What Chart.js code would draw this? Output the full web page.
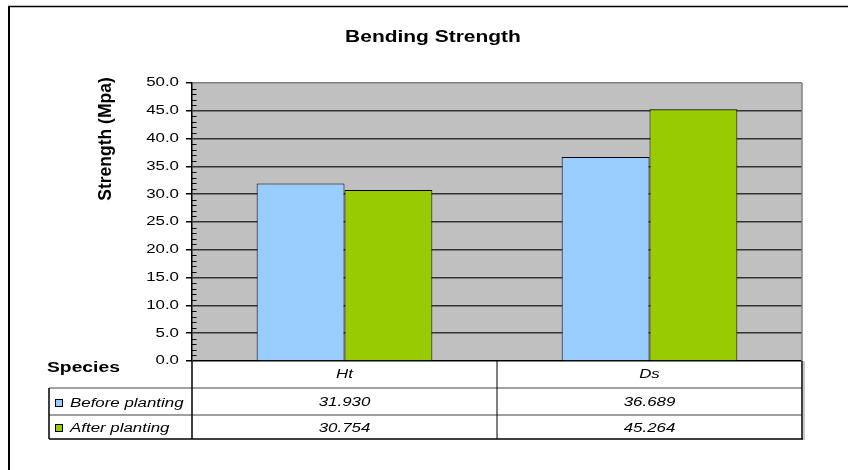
<!DOCTYPE html>
<html>
<head>
<meta charset="utf-8">
<script src="https://cdn.jsdelivr.net/npm/chart.js@4/dist/chart.umd.min.js"></script>
<style>
  html, body { margin: 0; padding: 0; background: #fff; }
  #wrap { width: 848px; height: 470px; position: relative; }
</style>
</head>
<body>
<div id="wrap"><canvas id="c" width="848" height="470"></canvas></div>
<script>
// ---- data ----
const chartTitle = 'Bending Strength';
const yAxisTitle = 'Strength (Mpa)';
const tableHeader = 'Species';
const species = ['Ht', 'Ds'];
const seriesNames = ['Before planting', 'After planting'];
const beforePlanting = [31.930, 36.689];
const afterPlanting = [30.754, 45.264];
const yMin = 0;
const yMax = 50;
const yStep = 5;
const yMinorStep = 1;

// ---- styling ----
const FONT = '"Liberation Sans", Arial, Helvetica, sans-serif';
const WIDE = 1.35;               // horizontal scale for drawn text (wide sheet-style lettering)
const seriesColors = ['#99CCFF', '#99CC00'];
const plotFill = '#C0C0C0';

function wideText(ctx, str, x, y, align, font, stretch) {
  ctx.save();
  ctx.font = font;
  ctx.fillStyle = '#000';
  ctx.textAlign = align;
  ctx.textBaseline = 'alphabetic';
  ctx.translate(x, y);
  ctx.scale(stretch || WIDE, 1);
  ctx.fillText(str, 0, 0);
  ctx.restore();
}

function line(ctx, x1, y1, x2, y2, color, w) {
  ctx.save();
  ctx.strokeStyle = color;
  ctx.lineWidth = w;
  ctx.beginPath();
  ctx.moveTo(x1, y1);
  ctx.lineTo(x2, y2);
  ctx.stroke();
  ctx.restore();
}

const sheetDecor = {
  id: 'sheetDecor',
  beforeDraw(chart) {
    const { ctx, chartArea: a } = chart;
    ctx.save();
    ctx.fillStyle = '#fff';
    ctx.fillRect(0, 0, chart.width, chart.height);
    ctx.restore();
    // outer frame (left and top edges)
    line(ctx, 9, 6, 9, chart.height, '#000', 2);
    line(ctx, 8, 6.5, chart.width, 6.5, '#000', 1.5);
    // plot background
    ctx.save();
    ctx.fillStyle = plotFill;
    ctx.fillRect(a.left, a.top, a.right - a.left, a.bottom - a.top);
    ctx.restore();

    // widen the value-axis labels drawn by the library
    const ys = chart.scales.y;
    if (!ys._wideLabels) {
      const orig = ys.drawLabels;
      ys.drawLabels = function (area) {
        const c = this.ctx;
        const ax = this.right - this.options.grid.tickLength - this.options.ticks.padding;
        c.save();
        c.translate(ax, 0);
        c.scale(WIDE, 1);
        c.translate(-ax, 0);
        orig.call(this, area);
        c.restore();
      };
      ys._wideLabels = true;
    }
  },
  afterDraw(chart) {
    const { ctx, chartArea: a } = chart;
    const ys = chart.scales.y;
    const xs = chart.scales.x;

    // minor ticks on the value axis
    for (let v = yMin; v <= yMax; v += yMinorStep) {
      if (v % yStep === 0) continue;
      const py = Math.round(ys.getPixelForValue(v)) + 0.5;
      line(ctx, a.left, py, a.left + 4.5, py, '#000', 1);
    }

    // plot right edge
    line(ctx, a.right, a.top, a.right, a.bottom, '#808080', 1.5);

    // title
    wideText(ctx, chartTitle, 433, 42, 'center', 'bold 16.5px ' + FONT, 1.27);

    // value axis title
    ctx.save();
    ctx.translate(111, 139);
    ctx.rotate(-Math.PI / 2);
    ctx.font = 'bold 17.5px ' + FONT;
    ctx.fillStyle = '#000';
    ctx.textAlign = 'center';
    ctx.textBaseline = 'alphabetic';
    ctx.fillText(yAxisTitle, 0, 0);
    ctx.restore();

    // ---- data table under the plot ----
    const top = a.bottom;
    const rowH = [27, 27, 24];
    const r1 = top + rowH[0];
    const r2 = r1 + rowH[1];
    const bottom = r2 + rowH[2];
    const keyLeft = 49;
    const mid = (xs.getPixelForValue(0) + xs.getPixelForValue(1)) / 2;

    // light shadow on the right edge
    ctx.save();
    ctx.fillStyle = '#c8c8c8';
    ctx.fillRect(a.right + 1, top, 2, bottom - top + 1);
    ctx.restore();

    line(ctx, keyLeft, r1, a.right, r1, '#808080', 1.5);
    line(ctx, keyLeft, r2, a.right, r2, '#808080', 1.5);
    line(ctx, keyLeft, bottom, a.right + 1, bottom, '#000', 1.5);
    line(ctx, keyLeft, r1, keyLeft, bottom, '#000', 1.5);
    line(ctx, a.left, top, a.left, bottom, '#000', 1.5);
    line(ctx, mid, top, mid, bottom, '#000', 1);
    line(ctx, a.right, top, a.right, bottom, '#000', 1.5);

    const cellFont = 'italic 12.5px ' + FONT;
    species.forEach((s, i) => {
      const cx = xs.getPixelForValue(i);
      wideText(ctx, s, cx, top + 17, 'center', cellFont);
      wideText(ctx, beforePlanting[i].toFixed(3), cx, r1 + 18, 'center', cellFont);
      wideText(ctx, afterPlanting[i].toFixed(3), cx, r2 + 17, 'center', cellFont);
    });

    wideText(ctx, tableHeader, 47, top + 11, 'left', 'bold 14.5px ' + FONT, 1.33);

    const rowsY = [r1 + 19, r2 + 17];
    seriesNames.forEach((name, i) => {
      const ky = rowsY[i] - 8;
      ctx.save();
      ctx.fillStyle = seriesColors[i];
      ctx.fillRect(55, ky, 8, 8);
      ctx.strokeStyle = '#000';
      ctx.lineWidth = 1;
      ctx.strokeRect(55.5, ky + 0.5, 7, 7);
      ctx.restore();
      wideText(ctx, name, 70, rowsY[i], 'left', cellFont);
    });
  }
};

new Chart(document.getElementById('c'), {
  type: 'bar',
  data: {
    labels: species,
    datasets: [
      {
        label: seriesNames[0],
        data: beforePlanting,
        backgroundColor: seriesColors[0],
        borderColor: '#000',
        borderWidth: 1,
        categoryPercentage: 0.576,
        barPercentage: 1.0
      },
      {
        label: seriesNames[1],
        data: afterPlanting,
        backgroundColor: seriesColors[1],
        borderColor: '#000',
        borderWidth: 1,
        categoryPercentage: 0.576,
        barPercentage: 1.0
      }
    ]
  },
  options: {
    responsive: false,
    animation: false,
    devicePixelRatio: 1,
    layout: { padding: { top: 83, right: 46, bottom: 109, left: 0 } },
    plugins: {
      legend: { display: false },
      title: { display: false },
      tooltip: { enabled: false }
    },
    scales: {
      x: {
        type: 'category',
        display: false,
        grid: { display: false }
      },
      y: {
        min: yMin,
        max: yMax,
        afterFit(scale) { scale.width = 192; },
        ticks: {
          stepSize: yStep,
          padding: 7,
          color: '#000',
          font: { family: FONT, size: 12.5 },
          callback: (v) => Number(v).toFixed(1)
        },
        grid: {
          drawTicks: true,
          tickLength: 6,
          tickColor: '#000',
          color: (c) => c.tick && c.tick.value === yMax ? '#808080'
                      : (c.tick && c.tick.value === yMin ? '#000' : '#333'),
          lineWidth: 1.5
        },
        border: { display: true, color: '#000', width: 1.5 }
      }
    }
  },
  plugins: [sheetDecor]
});
</script>
</body>
</html>
